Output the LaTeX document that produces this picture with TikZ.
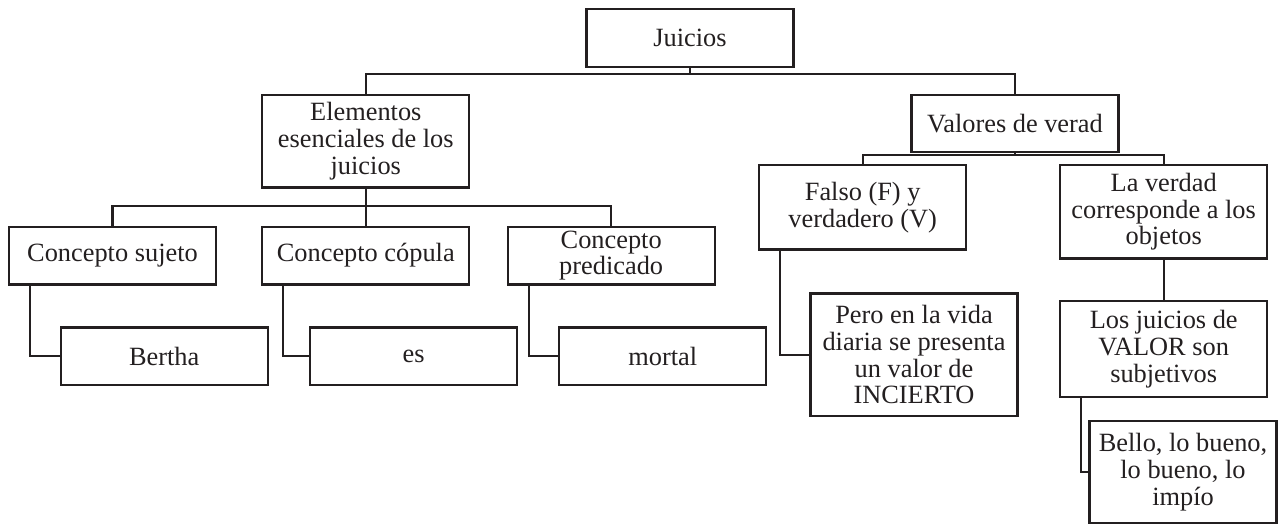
\documentclass[tikz,border=0pt]{standalone}
\usepackage{fontspec}
\setmainfont{Liberation Serif}
\usepackage{xcolor}
\usepackage{tikz}
\usetikzlibrary{positioning}
\definecolor{inkgray}{HTML}{231F20}

\begin{document}
\begin{tikzpicture}[node distance=0.85cm and 0.9cm,
  block/.style={rectangle, draw=inkgray, text=inkgray, line width=1.25pt, inner sep=0pt, outer sep=0pt, minimum width=4.14cm, minimum height=1.152cm, align=center, font=\fontsize{15}{15.3}\selectfont},
  link/.style={draw=inkgray, line width=1.25pt}]
  \useasboundingbox (0,0) rectangle (25.56,-10.5);
  % Raiz
  \node[block] (juicios) at (13.8,-0.76) {Juicios};
  \node[block, minimum height=1.846cm, below=0.566cm of juicios, xshift=-6.484cm] (elementos) {Elementos\\esenciales de los\\juicios};
  \node[block, minimum height=1.134cm, below=0.566cm of juicios, xshift=6.5cm] (valores) {Valores de verad};
  % Elementos
  \node[block, below=0.788cm of elementos] (copula) {Concepto cópula};
  \node[block, left=0.926cm of copula] (sujeto) {Concepto sujeto};
  \node[block, right=0.768cm of copula] (predicado) {Concepto\\predicado};
  \node[block, below=0.86cm of sujeto, xshift=1.034cm] (bertha) {Bertha};
  \node[block, below=0.86cm of copula, xshift=0.958cm] (es) {es};
  \node[block, below=0.86cm of predicado, xshift=1.032cm] (mortal) {mortal};
  % Valores
  \node[block, minimum height=1.686cm, below=0.266cm of valores, xshift=-3.046cm] (falso) {Falso (F) y\\verdadero (V)};
  \node[block, minimum height=1.866cm, below=0.266cm of valores, xshift=2.974cm] (verdad) {La verdad\\corresponde a los\\objetos};
  \node[block, minimum height=2.448cm, below=0.88cm of falso, xshift=1.026cm] (pero) {Pero en la vida\\diaria se presenta\\un valor de\\INCIERTO};
  \node[block, minimum height=1.92cm, below=0.848cm of verdad] (losjuicios) {Los juicios de\\VALOR son\\subjetivos};
  \node[block, minimum width=3.74cm, minimum height=2.04cm, below=0.486cm of losjuicios, xshift=0.386cm] (bello) {Bello, lo bueno,\\lo bueno, lo\\impío};
  % Lineas
  \coordinate[below=0.146cm of juicios] (busA);
  \draw[link] (juicios) -- (busA);
  \draw[link] (elementos.north) |- (busA) -| (valores.north);
  \coordinate[below=0.368cm of elementos] (busB);
  \draw[link] (elementos) -- (copula);
  \draw[link] (sujeto.north) |- (busB) -| (predicado.north);
  \coordinate[below=0.06cm of valores] (busC);
  \draw[link] (valores) -- (busC);
  \draw[link] (falso.north) |- (busC) -| (verdad.north);
  \draw[link] ([xshift=0.42cm]sujeto.south west) |- (bertha.west);
  \draw[link] ([xshift=0.42cm]copula.south west) |- (es.west);
  \draw[link] ([xshift=0.42cm]predicado.south west) |- (mortal.west);
  \draw[link] ([xshift=0.42cm]falso.south west) |- (pero.west);
  \draw[link] (verdad) -- (losjuicios);
  \draw[link] ([xshift=0.42cm]losjuicios.south west) |- (bello.west);
\end{tikzpicture}
\end{document}
